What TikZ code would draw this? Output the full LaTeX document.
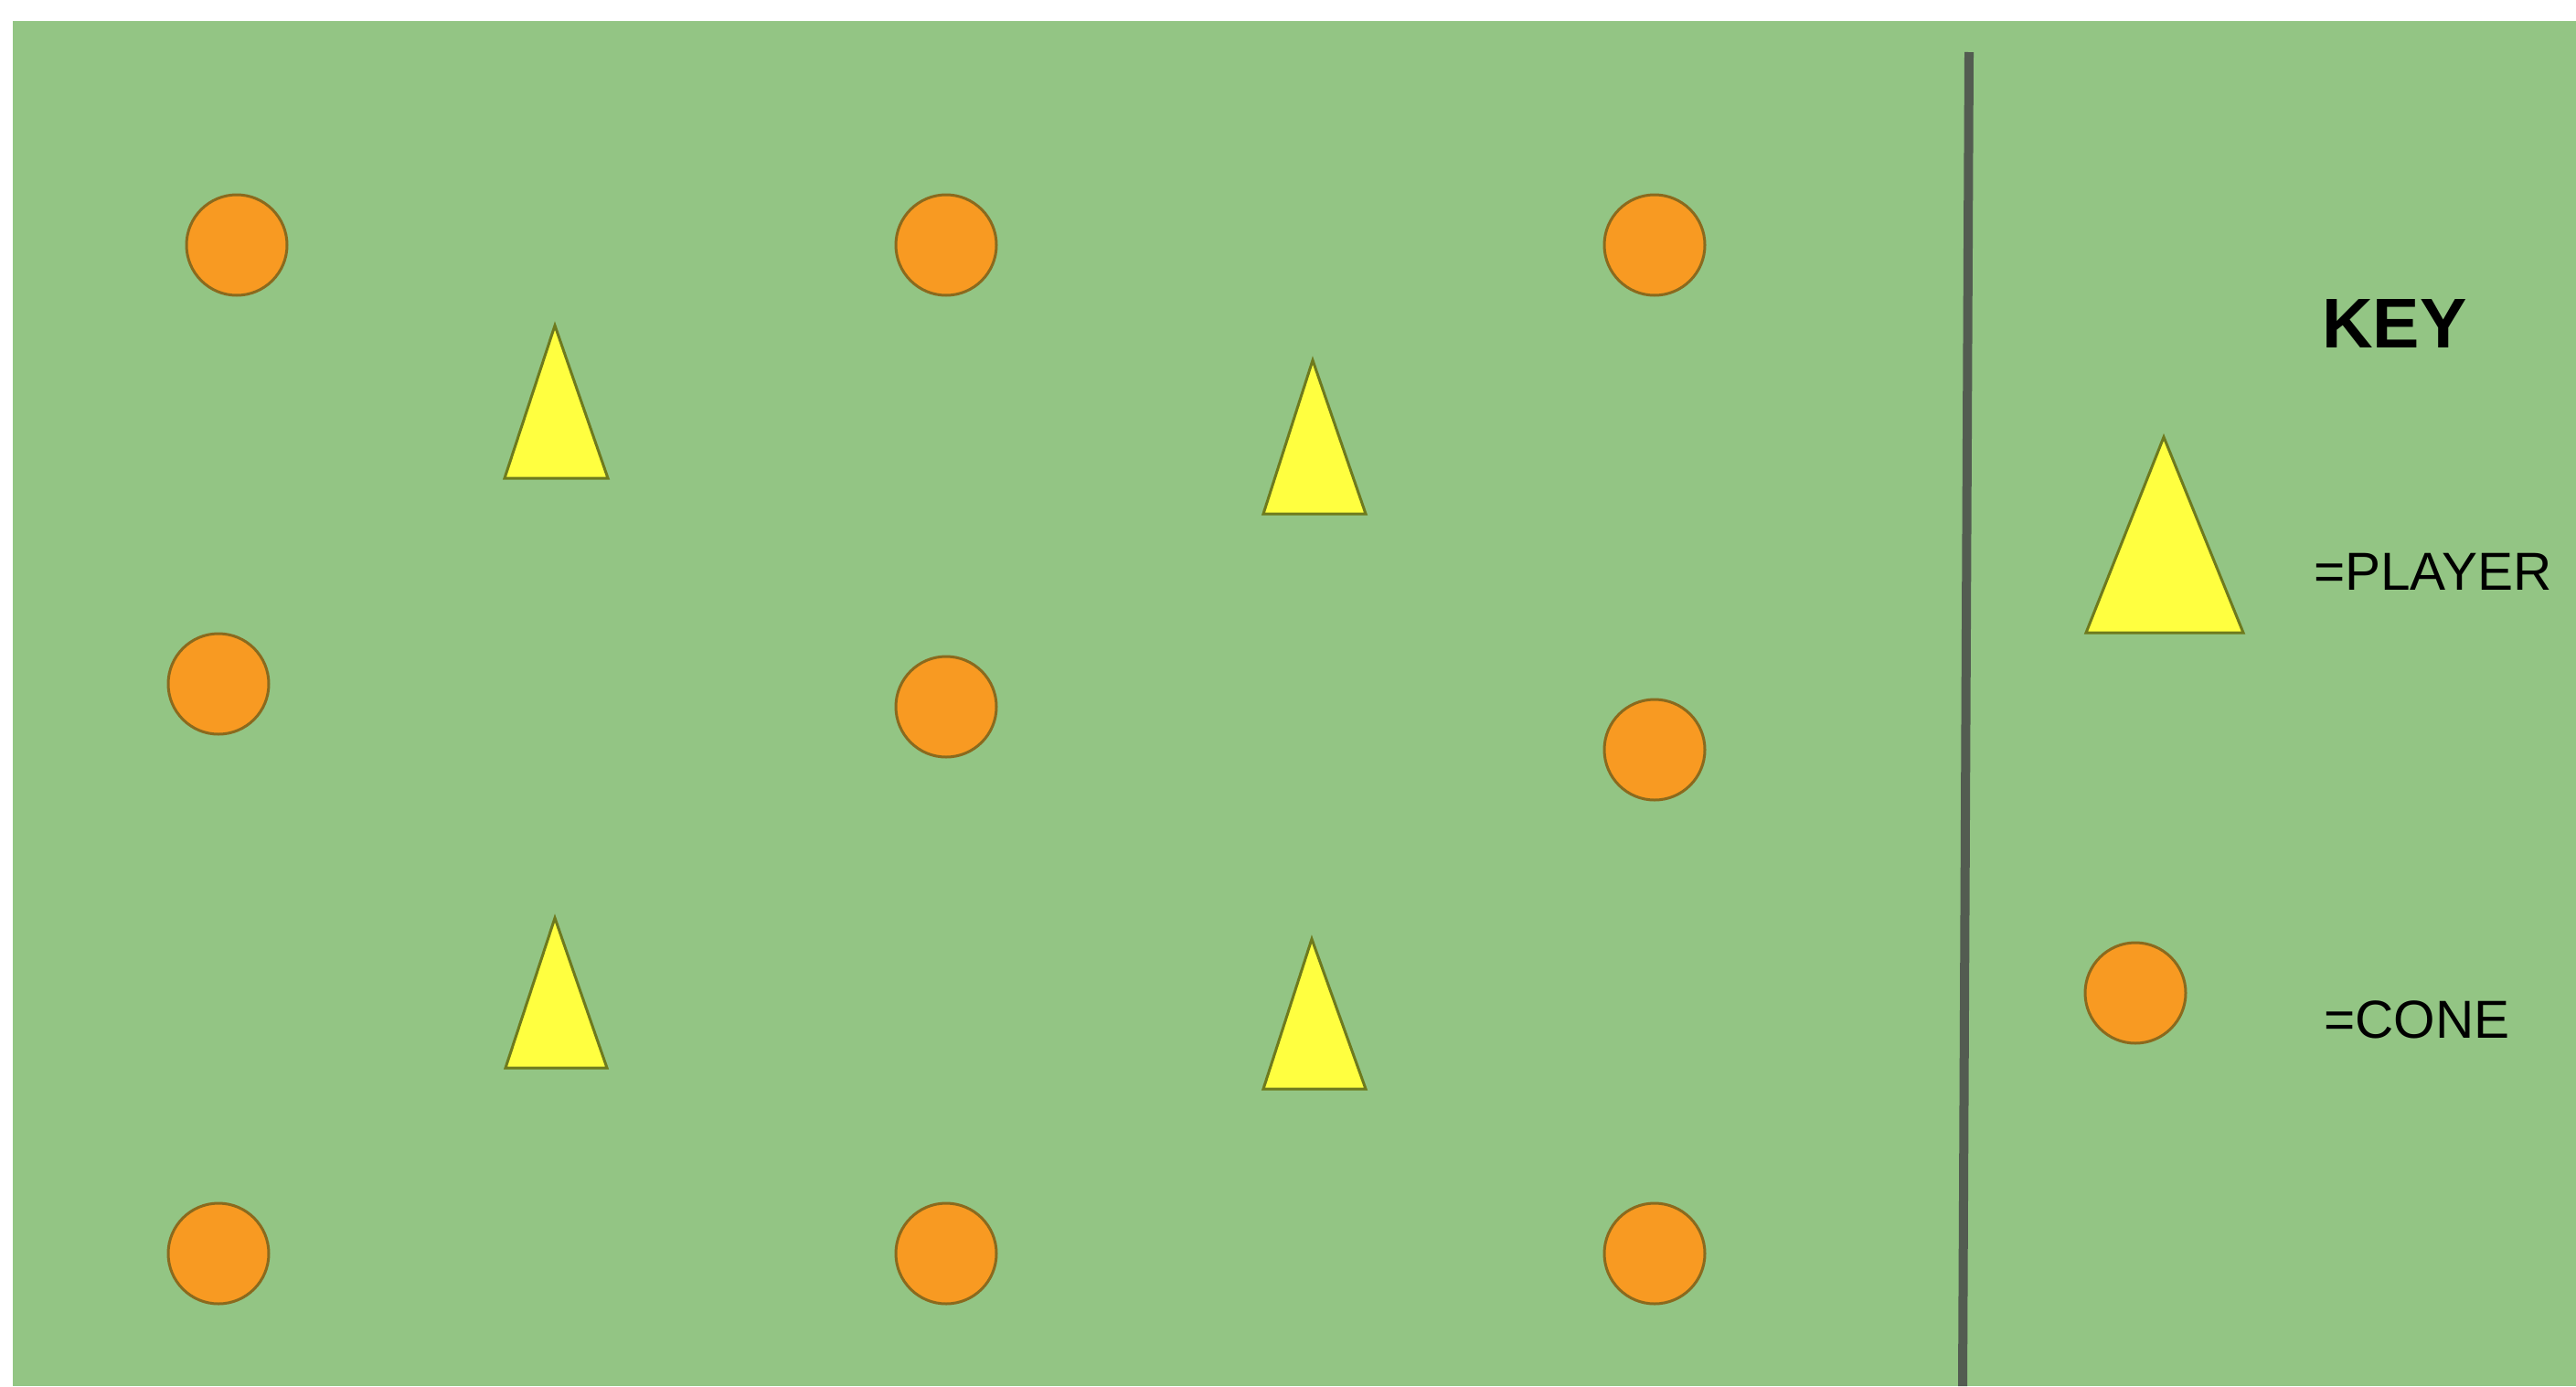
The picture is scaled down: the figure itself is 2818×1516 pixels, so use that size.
\documentclass[tikz,border=0pt]{standalone}
\usepackage{fontspec}
\setmainfont{Liberation Sans}
\definecolor{fieldgreen}{HTML}{93C584}
\definecolor{coneorange}{HTML}{F89A22}
\definecolor{coneedge}{HTML}{8A6A1E}
\definecolor{playeryellow}{HTML}{FFFF40}
\definecolor{playeredge}{HTML}{6E7A1E}
\definecolor{linegray}{HTML}{535C51}
\begin{document}
\begin{tikzpicture}[x=1pt,y=-1pt,
  cone/.style={circle,fill=coneorange,draw=coneedge,line width=3pt,minimum size=110pt,inner sep=0pt},
  player/.style={fill=playeryellow,draw=playeredge,line width=3pt,line join=miter},
  keytext/.style={anchor=base west,inner sep=0pt,text=black}]
\useasboundingbox (0,0) rectangle (2818,1516);
\fill[white] (0,0) rectangle (2818,1516);
\fill[fieldgreen] (14,23) rectangle (2818,1516);
% divider
\draw[linegray,line width=10pt] (2154,57) -- (2147,1516);
% cones
\node[cone] (c11) at (259,268) {};
\node[cone] (c12) at (1035,268) {};
\node[cone] (c13) at (1810,268) {};
\node[cone] (c21) at (239,748) {};
\node[cone] (c22) at (1035,773) {};
\node[cone] (c23) at (1810,820) {};
\node[cone] (c31) at (239,1371) {};
\node[cone] (c32) at (1035,1371) {};
\node[cone] (c33) at (1810,1371) {};
\node[cone] (ckey) at (2336,1086) {};
% players
\draw[player] (607,356) -- (665,523) -- (552,523) -- cycle;
\draw[player] (1436,394) -- (1494,562) -- (1382,562) -- cycle;
\draw[player] (607,1004) -- (664,1168) -- (553,1168) -- cycle;
\draw[player] (1435,1027) -- (1494,1191) -- (1382,1191) -- cycle;
\draw[player] (2367,478) -- (2454,692) -- (2282,692) -- cycle;
% key texts
\node[keytext,font=\fontsize{77}{82}\selectfont\bfseries] (key) at (2540,380) {KEY};
\node[keytext,font=\fontsize{58.5}{64}\selectfont] (lplayer) at (2531,645) {=PLAYER};
\node[keytext,font=\fontsize{58.5}{64}\selectfont] (lcone) at (2542,1135) {=CONE};
\end{tikzpicture}
\end{document}
